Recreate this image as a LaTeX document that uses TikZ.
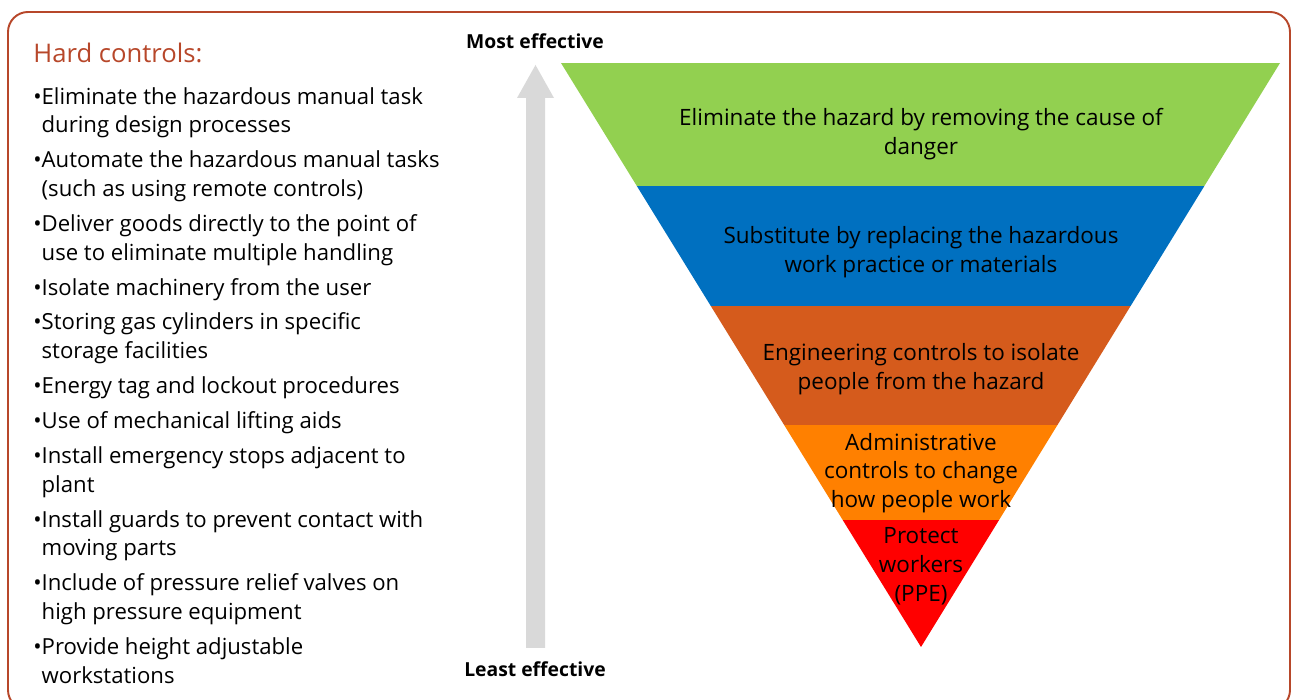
\documentclass[tikz,border=0pt]{standalone}
\usepackage{fontspec}
\setmainfont{Open Sans}
\usepackage{tikz}
\definecolor{brick}{HTML}{B7472A}
\definecolor{ctlgreen}{HTML}{92D050}
\definecolor{ctlblue}{HTML}{0070C0}
\definecolor{ctlrust}{HTML}{D55B1C}
\definecolor{ctlorange}{HTML}{FF8000}
\definecolor{ctlred}{HTML}{FF0000}
\definecolor{arrowgrey}{HTML}{D9D9D9}
\tikzset{bandtext/.style={align=center, font=\fontsize{12.8}{16.4}\selectfont}}

\begin{document}
\begin{tikzpicture}
		%%%%% START %%%%%
		\useasboundingbox (0, 0) rectangle (25.94, 14);
		\draw[brick, line width=1.1pt, rounded corners=0.4cm] (0.16, -0.2) rectangle (25.8, 13.76);
		
		% left column
		\node[anchor=base west, inner sep=0, text=brick, font=\fontsize{14.6}{18}\selectfont] (hard) at (0.66, 12.74) {Hard controls:};
		\node[anchor=north west, inner sep=0, align=left, font=\fontsize{12.6}{16.3}\selectfont] (hardlist) at (0.66, 12.26) {%
			•Eliminate the hazardous manual task\\ \phantom{•}during design processes\\[3.6pt]
			•Automate the hazardous manual tasks\\ \phantom{•}(such as using remote controls)\\[3.6pt]
			•Deliver goods directly to the point of\\ \phantom{•}use to eliminate multiple handling\\[3.6pt]
			•Isolate machinery from the user\\[3.6pt]
			•Storing gas cylinders in specific\\ \phantom{•}storage facilities\\[3.6pt]
			•Energy tag and lockout procedures\\[3.6pt]
			•Use of mechanical lifting aids\\[3.6pt]
			•Install emergency stops adjacent to\\ \phantom{•}plant\\[3.6pt]
			•Install guards to prevent contact with\\ \phantom{•}moving parts\\[3.6pt]
			•Include of pressure relief valves on\\ \phantom{•}high pressure equipment\\[3.6pt]
			•Provide height adjustable\\ \phantom{•}workstations};
		
		% effectiveness arrow
		\fill[arrowgrey] (10.52, 1.04) -- (10.52, 12.04) -- (10.34, 12.04) -- (10.71, 12.7)
			-- (11.08, 12.04) -- (10.9, 12.04) -- (10.9, 1.04) -- cycle;
		\node[font=\bfseries\fontsize{11}{13}\selectfont] (most) at (10.7, 13.18) {Most effective};
		\node[font=\bfseries\fontsize{11}{13}\selectfont] (least) at (10.7, 0.62) {Least effective};
		
		% inverted triangle, cut into bands
		\begin{scope}
			\clip (11.22, 12.74) -- (25.6, 12.74) -- (18.42, 1.06) -- cycle;
			\fill[ctlgreen] (11, 12.74) rectangle (26, 10.28);
			\fill[ctlblue] (11, 10.28) rectangle (26, 7.88);
			\fill[ctlrust] (11, 7.88) rectangle (26, 5.5);
			\fill[ctlorange] (11, 5.5) rectangle (26, 3.6);
			\fill[ctlred] (11, 3.6) rectangle (26, 1);
		\end{scope}
		
		\node[bandtext] (elim) at (18.42, 11.32) {Eliminate the hazard by removing the cause of\\danger};
		\node[bandtext] (subst) at (18.42, 8.96) {Substitute by replacing the hazardous\\work practice or materials};
		\node[bandtext] (eng) at (18.42, 6.62) {Engineering controls to isolate\\people from the hazard};
		\node[bandtext] (admin) at (18.42, 4.54) {Administrative\\controls to change\\how people work};
		\node[bandtext] (ppe) at (18.42, 2.68) {Protect\\workers\\(PPE)};
		%%%%% END %%%%%
\end{tikzpicture}
\end{document}
